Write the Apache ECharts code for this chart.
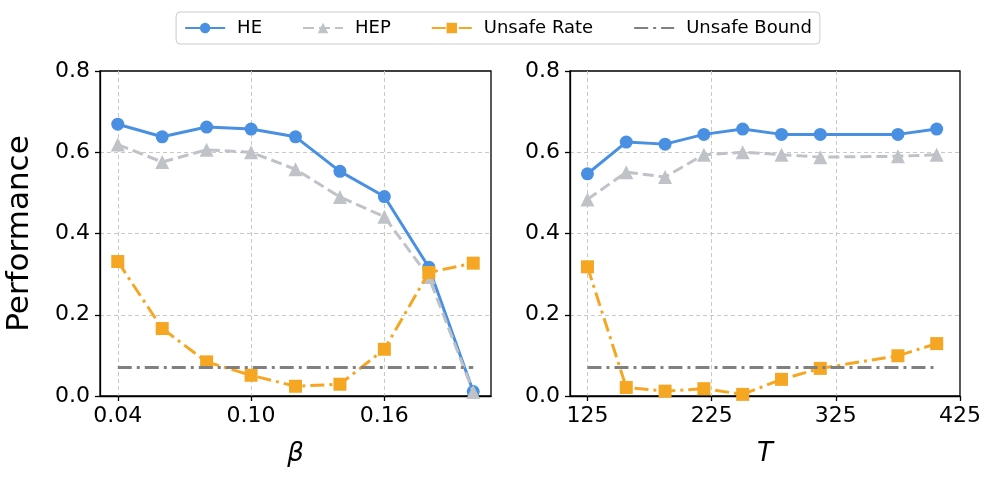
<!DOCTYPE html>
<html><head><meta charset="utf-8">
<script src="https://cdn.jsdelivr.net/npm/echarts@6/dist/echarts.min.js"></script>
<style>html,body{margin:0;padding:0;background:#fff}#c{width:996px;height:477px}</style>
</head><body><div id="c"></div>
<script>
const betaVals = [0.04, 0.06, 0.08, 0.10, 0.12, 0.14, 0.16, 0.18, 0.20];
const heBeta = [0.669, 0.638, 0.662, 0.657, 0.638, 0.553, 0.491, 0.317, 0.011];
const hepBeta = [0.619, 0.576, 0.606, 0.600, 0.558, 0.490, 0.441, 0.293, 0.010];
const unsafeBeta = [0.331, 0.166, 0.084, 0.051, 0.024, 0.029, 0.115, 0.304, 0.327];

const tVals = [125, 156.25, 187.5, 218.75, 250, 281.25, 312.5, 375, 406.25];
const heT = [0.547, 0.625, 0.620, 0.644, 0.657, 0.644, 0.644, 0.644, 0.657];
const hepT = [0.484, 0.551, 0.539, 0.594, 0.600, 0.594, 0.588, 0.590, 0.594];
const unsafeT = [0.318, 0.021, 0.012, 0.018, 0.004, 0.041, 0.068, 0.099, 0.129];

const unsafeBound = 0.07;
const betaTicks = [0.04, 0.10, 0.16];
const tTicks = [125, 225, 325, 425];

const FONT = 'DejaVu Sans';
const C_HE = '#4a90e2', C_HEP = '#bfc3c7', C_UR = '#f5a623', C_UB = '#808080';

function pairs(xs, ys){ return xs.map((x,i)=>[x, ys[i]]); }

const chart = echarts.init(document.getElementById('c'), null, {renderer:'canvas'});

function gridLine(showMin, showMax){
  return {show:true, showMinLine:showMin, showMaxLine:showMax, lineStyle:{type:[4,3], color:'#c8c8c8', width:1}};
}

function xAxisDef(idx, min, max, ticks, fmt, name, showMax){
  return {
    type:'value', gridIndex: idx, min, max,
    name, nameLocation:'middle', nameGap: 45,
    nameTextStyle:{fontFamily:FONT, fontSize:26, fontStyle:'italic', color:'#000'},
    axisLine:{show:true, onZero:false, lineStyle:{color:'#000', width:1.3}},
    axisTick:{show:true, inside:false, length:5, customValues: ticks, lineStyle:{color:'#000', width:1.3}},
    axisLabel:{customValues: ticks, formatter: fmt, fontFamily:FONT, fontSize:22, color:'#000', margin:9},
    splitLine: gridLine(true, showMax)
  };
}
function yAxisDef(idx, name){
  return {
    type:'value', gridIndex: idx, min:0, max:0.8, interval:0.2,
    name, nameLocation:'middle', nameGap: 65,
    nameTextStyle:{fontFamily:FONT, fontSize:31, color:'#000'},
    axisLine:{show:true, lineStyle:{color:'#000', width:1.3}},
    axisTick:{show:true, inside:false, length:5, lineStyle:{color:'#000', width:1.3}},
    axisLabel:{formatter: v => v.toFixed(1), fontFamily:FONT, fontSize:22, color:'#000', margin:10},
    splitLine: gridLine(false, false)
  };
}

function seriesSet(xi, xs, he, hep, ur, bx){
  return [
    {name:'HE', type:'line', xAxisIndex:xi, yAxisIndex:xi, data:pairs(xs, he),
     symbol:'circle', symbolSize:13, itemStyle:{color:C_HE},
     lineStyle:{color:C_HE, width:3}, z:2, animation:false},
    {name:'HEP', type:'line', xAxisIndex:xi, yAxisIndex:xi, data:pairs(xs, hep),
     symbol:'triangle', symbolSize:14, itemStyle:{color:C_HEP},
     lineStyle:{color:C_HEP, width:3, type:[11,5]}, z:3, animation:false},
    {name:'Unsafe Rate', type:'line', xAxisIndex:xi, yAxisIndex:xi, data:pairs(xs, ur),
     symbol:'rect', symbolSize:13, itemStyle:{color:C_UR},
     lineStyle:{color:C_UR, width:3, type:[14,5,3,5]}, z:4, animation:false},
    {name:'Unsafe Bound', type:'line', xAxisIndex:xi, yAxisIndex:xi,
     data:[[bx[0], unsafeBound],[bx[1], unsafeBound]],
     symbol:'none', itemStyle:{color:C_UB},
     lineStyle:{color:C_UB, width:3, type:[14,5,3,5]}, z:5, animation:false}
  ];
}

chart.setOption({
  animation:false,
  textStyle:{fontFamily:FONT},
  legend:{
    top:12, left:'center',
    data:['HE','HEP','Unsafe Rate',{name:'Unsafe Bound', itemStyle:{opacity:0}}],
    itemWidth:40, itemHeight:13, itemGap:40,
    textStyle:{fontFamily:FONT, fontSize:18, color:'#000', padding:[0,0,0,7]},
    borderColor:'#cccccc', borderWidth:1, borderRadius:4, padding:[7,8]
  },
  grid:[
    {left:100, top:71, width:391, height:325, show:true, borderColor:'#000', borderWidth:1.3, backgroundColor:'transparent'},
    {left:570, top:71, width:390, height:325, show:true, borderColor:'#000', borderWidth:1.3, backgroundColor:'transparent'}
  ],
  xAxis:[
    xAxisDef(0, 0.032, 0.208, betaTicks, v => v.toFixed(2), 'β', true),
    xAxisDef(1, 110.9375, 425, tTicks, v => String(Math.round(v)), 'T', false)
  ],
  yAxis:[ yAxisDef(0, 'Performance'), yAxisDef(1, '') ],
  series:[
    ...seriesSet(0, betaVals, heBeta, hepBeta, unsafeBeta, [betaVals[0], betaVals[betaVals.length-1]]),
    ...seriesSet(1, tVals, heT, hepT, unsafeT, [tVals[0], tVals[tVals.length-1]])
  ]
});
</script></body></html>
